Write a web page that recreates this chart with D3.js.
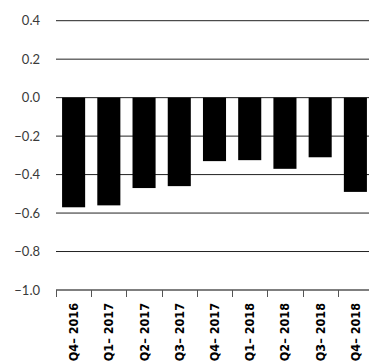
<!DOCTYPE html>
<html>
<head>
<meta charset="utf-8">
<script src="https://cdn.jsdelivr.net/npm/d3@7"></script>
<style>
  html, body { margin: 0; padding: 0; background: #fff; }
  svg { display: block; }
</style>
</head>
<body>
<svg id="chart" width="369" height="364"></svg>
<script>
// Quarterly values
const quarters = ["Q4– 2016", "Q1– 2017", "Q2– 2017", "Q3– 2017", "Q4– 2017",
                  "Q1– 2018", "Q2– 2018", "Q3– 2018", "Q4– 2018"];
const values = [-0.57, -0.56, -0.47, -0.46, -0.33, -0.325, -0.37, -0.31, -0.49];
const yTicks = [0.4, 0.2, 0.0, -0.2, -0.4, -0.6, -0.8, -1.0];

const svg = d3.select("#chart");
const plotLeft = 56, plotRight = 373, plotTop = 20.7, plotBottom = 290;

const x = d3.scaleBand().domain(quarters).range([plotLeft, plotRight]).padding(0);
const y = d3.scaleLinear().domain([-1.0, 0.4]).range([plotBottom, plotTop]);

// Horizontal grid lines
svg.append("g")
  .selectAll("line")
  .data(yTicks.filter(d => d > -1.0))
  .join("line")
  .attr("x1", plotLeft).attr("x2", 369)
  .attr("y1", d => y(d)).attr("y2", d => y(d))
  .attr("stroke", "#222").attr("stroke-width", 1);

// Y tick labels
const fmt = d3.format(".1f");
svg.append("g")
  .selectAll("text")
  .data(yTicks)
  .join("text")
  .attr("x", 40).attr("y", d => y(d))
  .attr("dy", "0.35em")
  .attr("text-anchor", "end")
  .attr("font-family", "Lato, 'Open Sans', sans-serif")
  .attr("font-size", 13)
  .attr("fill", "#3a3a3a")
  .text(d => fmt(d).replace("-", "−"));

// Bars
const barW = x.bandwidth() * 0.655;
svg.append("g")
  .selectAll("rect")
  .data(values)
  .join("rect")
  .attr("x", (d, i) => x(quarters[i]) + (x.bandwidth() - barW) / 2)
  .attr("y", d => y(Math.max(0, d)))
  .attr("width", barW)
  .attr("height", d => Math.abs(y(d) - y(0)))
  .attr("fill", "#000");

// Bottom axis with band-edge ticks
const axisG = svg.append("g");
axisG.append("line")
  .attr("x1", plotLeft).attr("x2", 369)
  .attr("y1", y(-1.0)).attr("y2", y(-1.0))
  .attr("stroke", "#555").attr("stroke-width", 1.5);
axisG.selectAll("line.tick")
  .data(quarters)
  .join("line")
  .attr("class", "tick")
  .attr("x1", d => Math.round(x(d)) + 0.5).attr("x2", d => Math.round(x(d)) + 0.5)
  .attr("y1", y(-1.0)).attr("y2", y(-1.0) + 7)
  .attr("stroke", "#555").attr("stroke-width", 1);

axisG.selectAll("text")
  .data(quarters)
  .join("text")
  .attr("transform", d => `translate(${x(d) + x.bandwidth() / 2 + 4.5},${y(-1.0) + 13}) rotate(-90)`)
  .attr("text-anchor", "end")
  .attr("font-family", "'DejaVu Sans Condensed', 'DejaVu Sans', sans-serif")
  .attr("font-weight", "bold")
  .attr("font-size", 12.5)
  .attr("fill", "#000")
  .text(d => d);
</script>
</body>
</html>
